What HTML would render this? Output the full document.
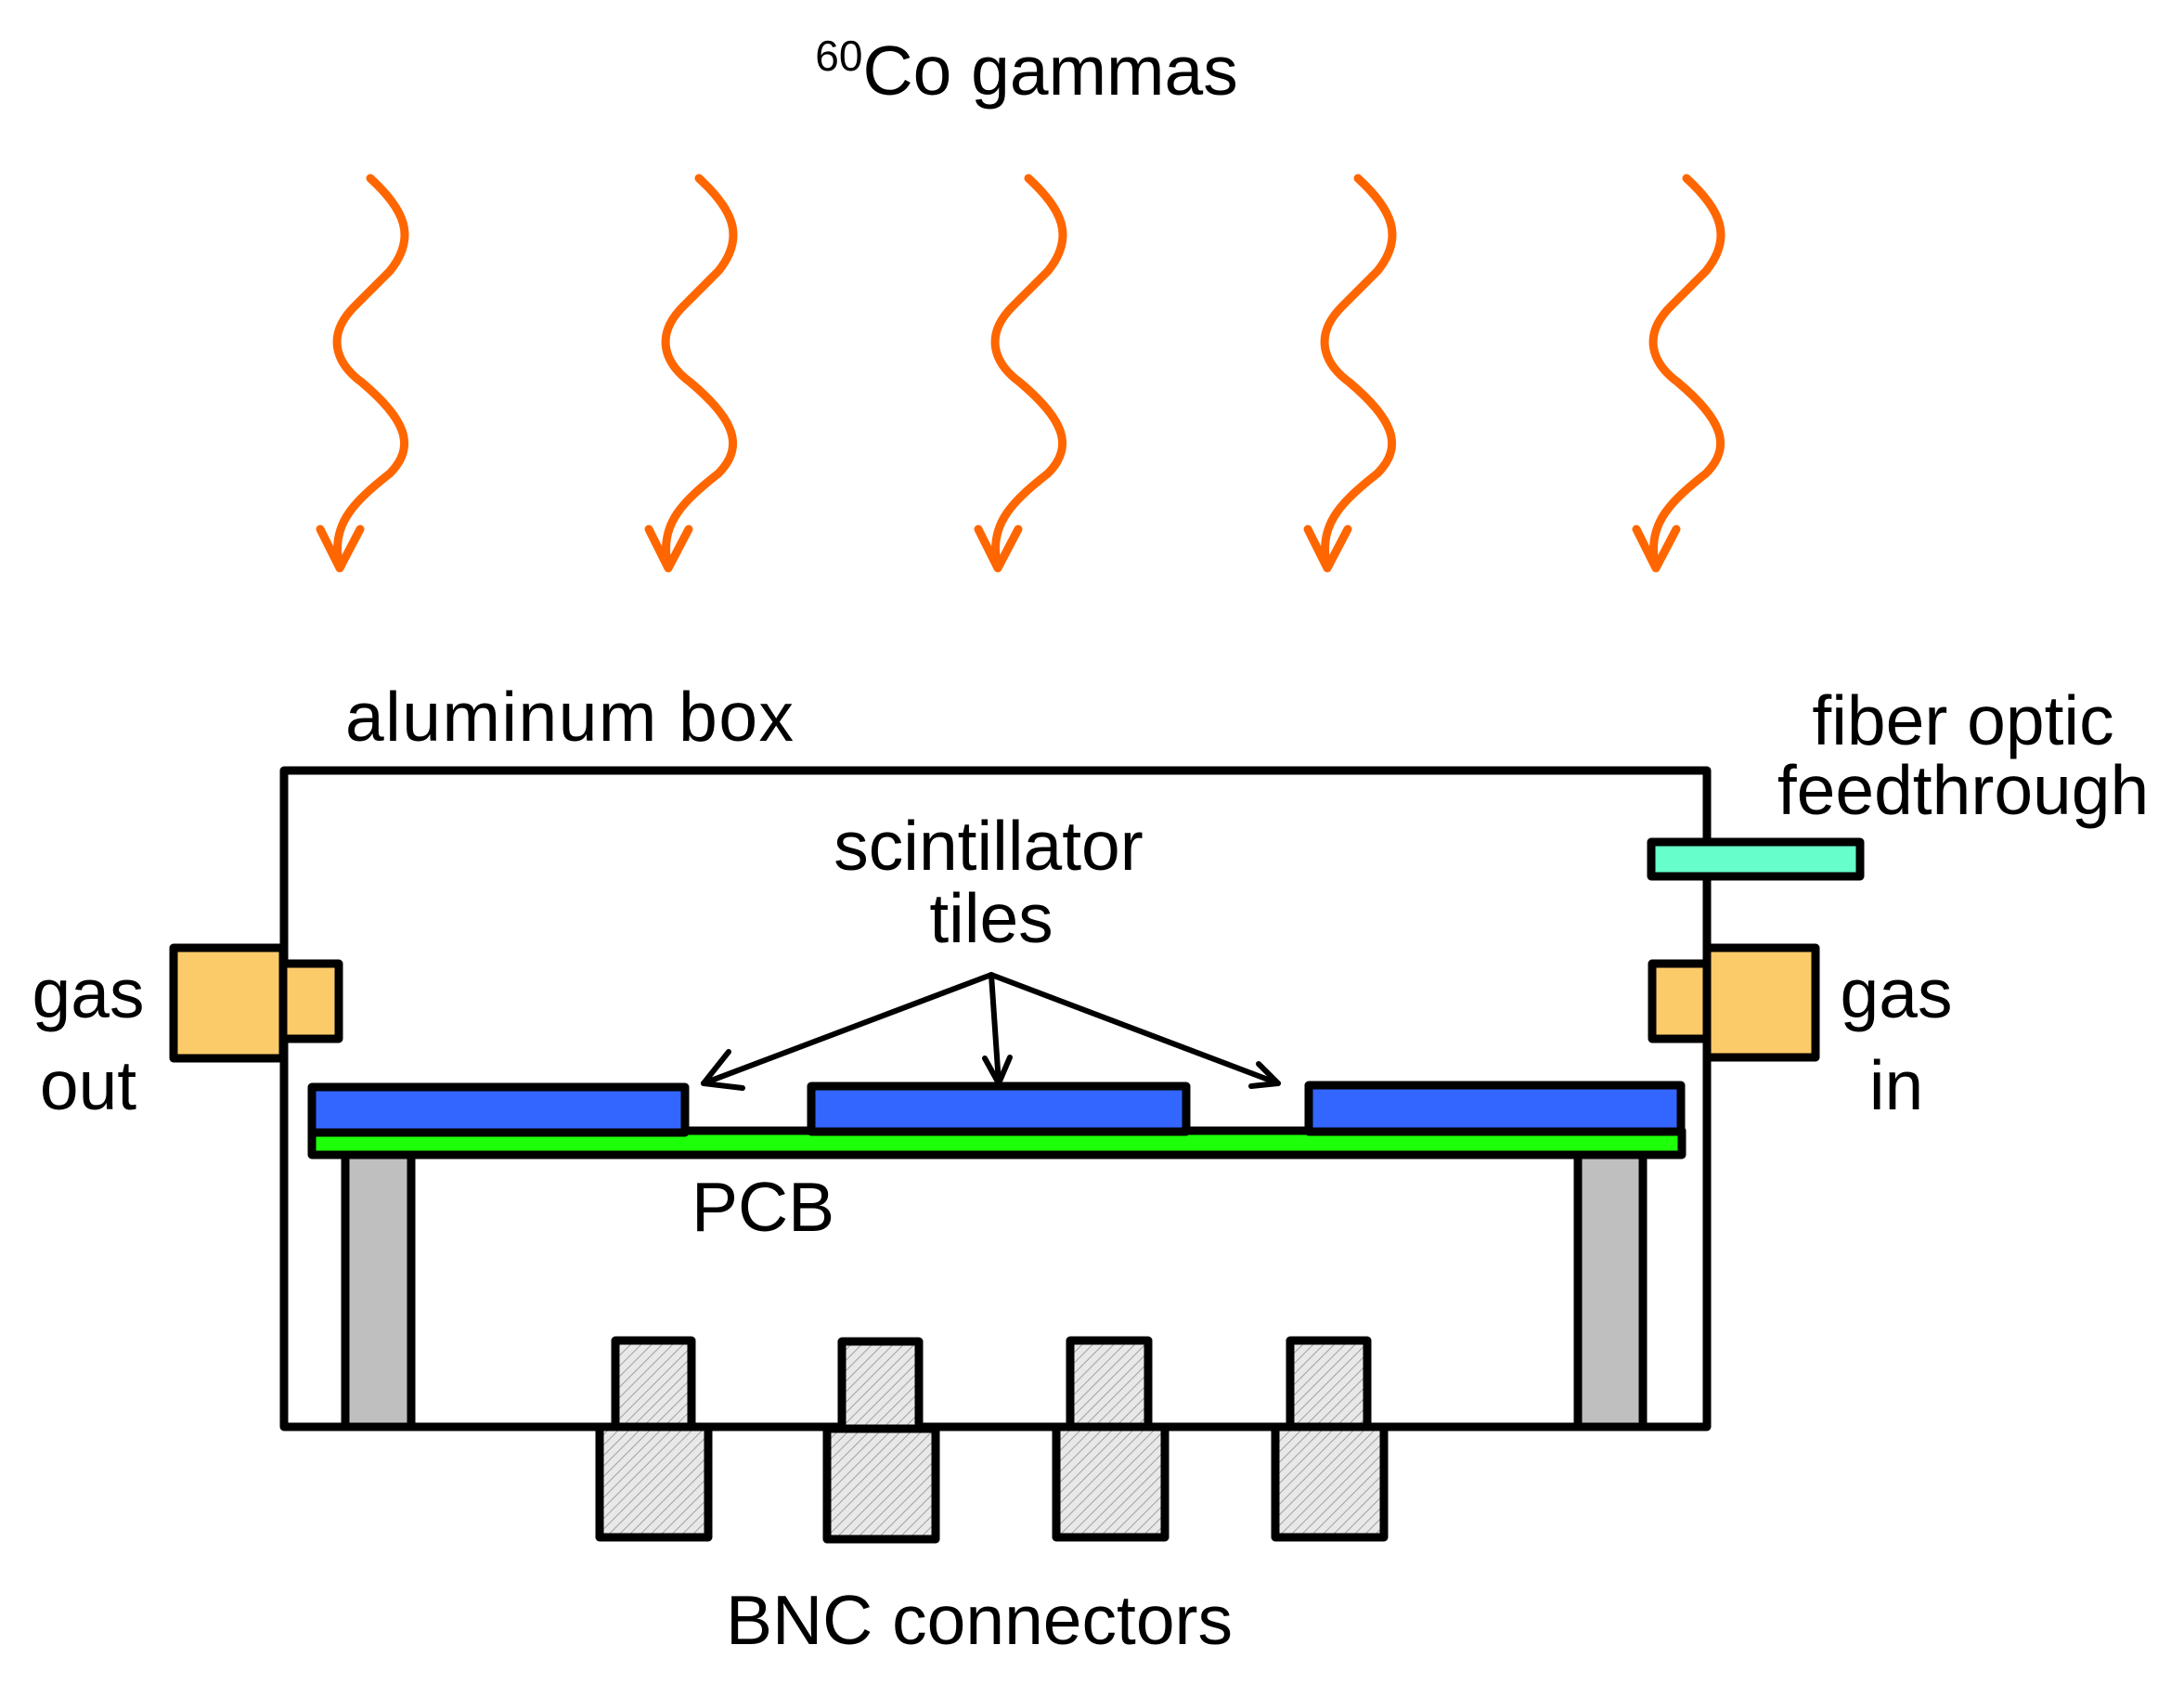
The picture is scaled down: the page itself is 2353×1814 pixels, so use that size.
<!DOCTYPE html>
<html><head><style>
html,body{margin:0;padding:0;background:#fff}
svg{display:block}
text{font-family:"Liberation Sans",sans-serif;font-size:75px;fill:#000}
</style></head><body>
<svg width="2353" height="1814" viewBox="0 0 2353 1814" xmlns="http://www.w3.org/2000/svg">
<defs>
<pattern id="h" width="8" height="8" patternUnits="userSpaceOnUse" patternTransform="rotate(45)">
<rect width="8" height="8" fill="#e8e8e8"/><line x1="0" y1="0" x2="0" y2="8" stroke="#a0a0a0" stroke-width="2"/>
</pattern>
<g id="w" fill="none" stroke="#ff6600" stroke-width="9" stroke-linecap="round" stroke-linejoin="round">
<path d="M399,192 C435,225 450,255 420,292 L382,330 C352,360 360,390 390,412 C435,450 450,480 420,510 C382,540 360,562 364,600"/>
<path d="M345,570 L366,612 L388,570"/>
</g>
</defs>
<use href="#w"/>
<use href="#w" x="354"/>
<use href="#w" x="709"/>
<use href="#w" x="1064"/>
<use href="#w" x="1418"/>
<text x="1106" y="102" text-anchor="middle"><tspan font-size="46" dy="-26">60</tspan><tspan dy="26">Co gammas</tspan></text>
<text x="372" y="798" textLength="483">aluminum box</text>
<text x="2115" y="802" text-anchor="middle">fiber optic</text>
<text x="2115" y="877" text-anchor="middle">feedthrough</text>
<text x="1065" y="937" text-anchor="middle">scintillator</text>
<text x="1068" y="1015" text-anchor="middle">tiles</text>
<text x="95" y="1096" text-anchor="middle">gas</text>
<text x="95" y="1195" text-anchor="middle">out</text>
<text x="2043" y="1096" text-anchor="middle">gas</text>
<text x="2043" y="1195" text-anchor="middle">in</text>
<text x="745" y="1326">PCB</text>
<text x="1055" y="1771" text-anchor="middle">BNC connectors</text>
<g stroke="#000" stroke-width="9" stroke-linejoin="round">
<rect x="306" y="830" width="1533" height="707" fill="none"/>
<rect x="1779" y="907" width="225" height="37" fill="#66ffcc"/>
<rect x="187" y="1021" width="118" height="119" fill="#fccb69"/>
<rect x="305" y="1038" width="60" height="81" fill="#fccb69"/>
<rect x="1780" y="1038" width="59" height="81" fill="#fccb69"/>
<rect x="1839" y="1021" width="117" height="118" fill="#fccb69"/>
<rect x="372" y="1244" width="71" height="293" fill="#bfbfbf"/>
<rect x="1700" y="1244" width="70" height="293" fill="#bfbfbf"/>
<rect x="336" y="1218" width="1476" height="26" fill="#1eff0a"/>
<rect x="336" y="1171" width="402" height="49" fill="#3366ff"/>
<rect x="874" y="1170" width="404" height="49" fill="#3366ff"/>
<rect x="1410" y="1169" width="401" height="50" fill="#3366ff"/>
<g fill="url(#h)">
<rect x="663" y="1444" width="82" height="93"/>
<rect x="907" y="1445" width="83" height="94"/>
<rect x="1153" y="1444" width="84" height="93"/>
<rect x="1390" y="1444" width="83" height="93"/>
<rect x="646" y="1537" width="117" height="119"/>
<rect x="891" y="1539" width="117" height="119"/>
<rect x="1138" y="1537" width="117" height="119"/>
<rect x="1374" y="1537" width="117" height="119"/>
</g>
</g>
<g stroke="#000" stroke-width="6" fill="none" stroke-linecap="round" stroke-linejoin="round">
<path d="M1068,1050 L758,1167"/><path d="M785,1133 L758,1167 L800,1172"/>
<path d="M1068,1050 L1076,1167"/><path d="M1061,1140 L1076,1167 L1088,1139"/>
<path d="M1068,1050 L1377,1167"/><path d="M1356,1146 L1377,1167 L1348,1170"/>
</g>
</svg>
</body></html>
